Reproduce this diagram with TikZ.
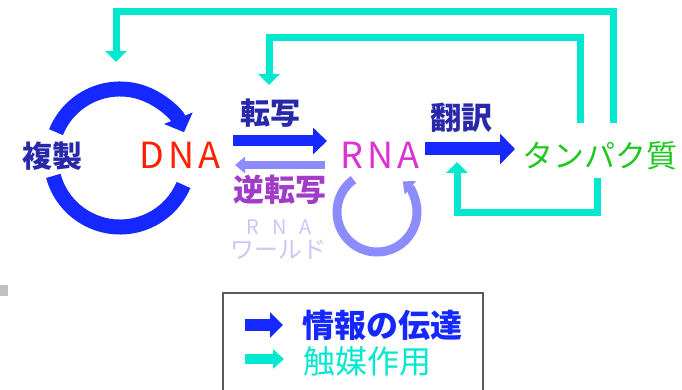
\documentclass[tikz,border=0pt]{standalone}
\usepackage{fontspec}
\setmainfont{Noto Sans CJK JP}
\usetikzlibrary{arrows.meta}
\definecolor{navyc}{RGB}{40,40,170}
\definecolor{dnared}{RGB}{255,32,0}
\definecolor{rnamag}{RGB}{220,50,210}
\definecolor{purplec}{RGB}{160,60,200}
\definecolor{lightc}{RGB}{200,200,250}
\definecolor{greenc}{RGB}{30,200,30}
\definecolor{bluec}{RGB}{20,40,255}
\definecolor{peric}{RGB}{140,140,255}
\definecolor{cyanc}{RGB}{0,232,208}
\definecolor{boxc}{RGB}{90,90,90}
\definecolor{sqc}{RGB}{192,192,192}
\begin{document}
\begin{tikzpicture}[x=1pt,y=1pt,
  every node/.style={inner sep=0pt,outer sep=0pt},
  kanji/.style={font=\fontsize{#1}{#1}\selectfont\bfseries},
  plain/.style={font=\fontsize{#1}{#1}\selectfont},
  cyanline/.style={draw=cyanc,line width=7pt,-{Triangle[width=21pt,length=11pt]}},
]
\useasboundingbox (0,0) rectangle (682,-390);
\fill[white] (0,0) rectangle (682,-390);
\fill[sqc] (0,-285) rectangle (8,-296);

% text nodes
\node[kanji=30,text=navyc] (fukusei) at (52,-156) {複製};
\node[plain=36,text=dnared] (dna) at (180,-155) {D\kern4pt N\kern4pt A};
\node[kanji=30,text=navyc] (tensha) at (270,-113) {転写};
\node[kanji=31,text=purplec] (gyaku) at (280,-190) {逆転写};
\node[plain=20,text=lightc] (rnaw) at (279,-227) {R\kern13pt N\kern13pt A};
\node[plain=24,text=lightc] (world) at (278,-250) {ワールド};
\node[plain=36,text=rnamag] (rna) at (380,-155) {R\kern4pt N\kern4pt A};
\node[kanji=31,text=navyc] (honyaku) at (461,-118) {翻訳};
\node[plain=31,text=greenc] (prot) at (600,-156) {タンパク質};

% coordinates
\coordinate (dnac) at (120,-158);
\coordinate (rnac) at (377,-212);
\coordinate (t1s) at (233,-141);
\coordinate (t1e) at (327,-141);
\coordinate (r1s) at (325,-165);
\coordinate (r1e) at (235,-165);
\coordinate (h1s) at (425,-149);
\coordinate (h1e) at (515,-149);
\coordinate (c1s) at (613,-123);
\coordinate (c1t) at (116,-12);
\coordinate (c1e) at (116,-62);
\coordinate (c2s) at (580,-123);
\coordinate (c2t) at (269,-38);
\coordinate (c2e) at (269,-85);
\coordinate (c3s) at (597,-178);
\coordinate (c3b) at (457,-212);
\coordinate (c3e) at (457,-162);

% replication circle
\draw[bluec,line width=15pt,-{Triangle[width=30pt,length=15pt]}]
  ([shift={(158:69pt)}]dnac) arc[start angle=158,end angle=22,radius=69pt];
\draw[bluec,line width=15pt]
  ([shift={(195:69pt)}]dnac) arc[start angle=195,end angle=337,radius=69pt];

% RNA world circle
\draw[peric,line width=9pt,-{Triangle[width=17pt,length=10pt]}]
  ([shift={(126:40pt)}]rnac) arc[start angle=126,end angle=410,radius=40pt];

% information arrows
\draw[bluec,line width=11pt,-{Triangle[width=26pt,length=14pt]}] (t1s) -- (t1e);
\draw[peric,line width=8pt,-{Triangle[width=16pt,length=10pt]}] (r1s) -- (r1e);
\draw[bluec,line width=13pt,-{Triangle[width=30pt,length=15pt]}] (h1s) -- (h1e);

% catalytic arrows
\draw[cyanline] (c1s) |- (c1t) -- (c1e);
\draw[cyanline] (c2s) |- (c2t) -- (c2e);
\draw[cyanline] (c3s) |- (c3b) -- (c3e);

% legend
\draw[boxc,line width=2pt] (223,-390) |- (483,-293) -- (483,-390);
\coordinate (l1s) at (245,-325);
\coordinate (l1e) at (283,-325);
\coordinate (l2s) at (245,-359);
\coordinate (l2e) at (284,-359);
\draw[bluec,line width=12pt,-{Triangle[width=25pt,length=13pt]}] (l1s) -- (l1e);
\draw[cyanc,line width=10pt,-{Triangle[width=19pt,length=11pt]}] (l2s) -- (l2e);
\node[kanji=32,text=bluec] (info) at (382,-325) {情報の伝達};
\node[plain=32,text=cyanc] (cat) at (367,-361) {触媒作用};
\end{tikzpicture}
\end{document}
